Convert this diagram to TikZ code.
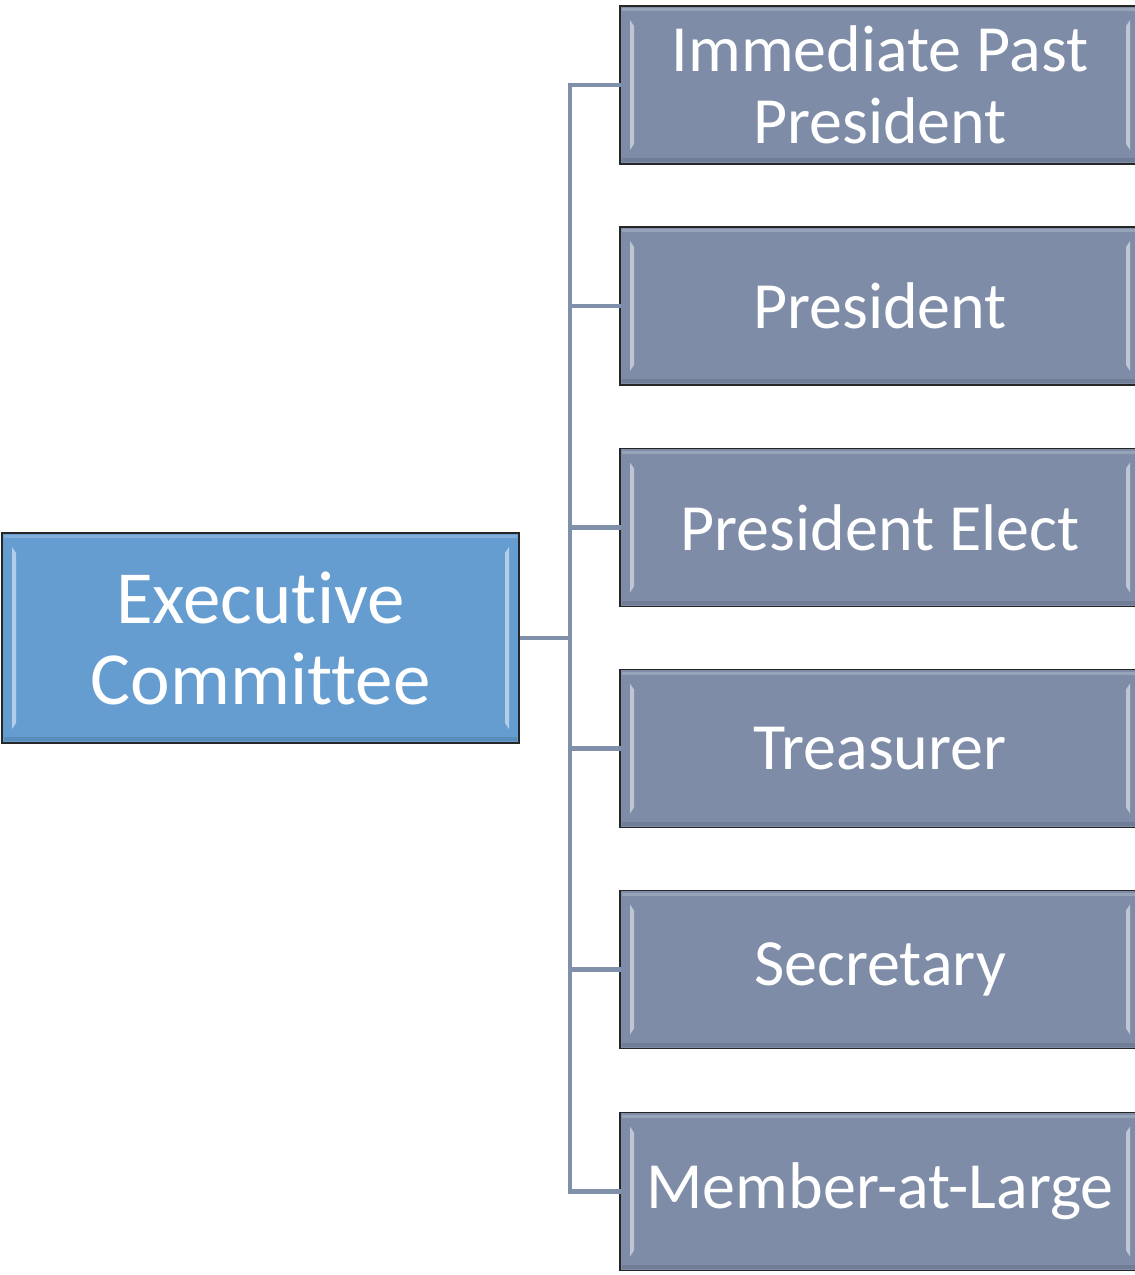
\documentclass[tikz,border=0pt]{standalone}
\usepackage{fontspec}
\setmainfont{Carlito}[RawFeature={-liga;-dlig}]
\definecolor{ecblue}{HTML}{659DD1}
\definecolor{slate}{HTML}{7E8CA8}
\definecolor{linec}{HTML}{8090AB}
\tikzset{
  bevel/.style={path picture={
    \fill[white,opacity=0.5] ([xshift=10pt,yshift=-14pt]path picture bounding box.north west) -- ([xshift=14pt,yshift=-20pt]path picture bounding box.north west) -- ([xshift=14pt,yshift=20pt]path picture bounding box.south west) -- ([xshift=10pt,yshift=14pt]path picture bounding box.south west) -- cycle;
    \fill[white,opacity=0.5] ([xshift=-10pt,yshift=-14pt]path picture bounding box.north east) -- ([xshift=-14pt,yshift=-20pt]path picture bounding box.north east) -- ([xshift=-14pt,yshift=20pt]path picture bounding box.south east) -- ([xshift=-10pt,yshift=14pt]path picture bounding box.south east) -- cycle;
    \fill[white,opacity=0.2] ([xshift=2pt,yshift=-2pt]path picture bounding box.north west) rectangle ([xshift=-2pt,yshift=-5pt]path picture bounding box.north east);
    \fill[black,opacity=0.1] ([xshift=2pt,yshift=2pt]path picture bounding box.south west) rectangle ([xshift=-2pt,yshift=6pt]path picture bounding box.south east);
  }},
  ecbox/.style={draw=black!85, line width=1.6pt, fill=ecblue, text=white, minimum width=517pt, minimum height=210pt, inner sep=0pt, align=center, font=\fontsize{75}{81}\selectfont, bevel},
  rbox/.style={draw=black!85, line width=1.6pt, fill=slate, text=white, minimum width=520pt, minimum height=158pt, inner sep=0pt, align=center, font=\fontsize{66}{72}\selectfont, bevel},
  conn/.style={draw=linec, line width=4.5pt}
}
\begin{document}
\begin{tikzpicture}[x=1pt,y=1pt]
\useasboundingbox (0,0) rectangle (1135,-1275);
\node[ecbox] (ec) at (260.5,-638) {Executive\\Committee};
\coordinate (j) at (570,-638);
\node[rbox] (b1) at (880,-85) {Immediate Past\\President};
\node[rbox] (b2) at (880,-306) {President};
\node[rbox] (b3) at (880,-527.5) {President Elect};
\node[rbox] (b4) at (880,-748.5) {Treasurer};
\node[rbox] (b5) at (880,-969.5) {Secretary};
\node[rbox] (b6) at (880,-1191.5) {Member-at-Large};
\draw[conn] (ec.east) -- (j);
\foreach \b in {b1,b2,b3,b4,b5,b6} {
  \draw[conn, line cap=rect] (j) |- (\b.west);
}
\end{tikzpicture}
\end{document}
